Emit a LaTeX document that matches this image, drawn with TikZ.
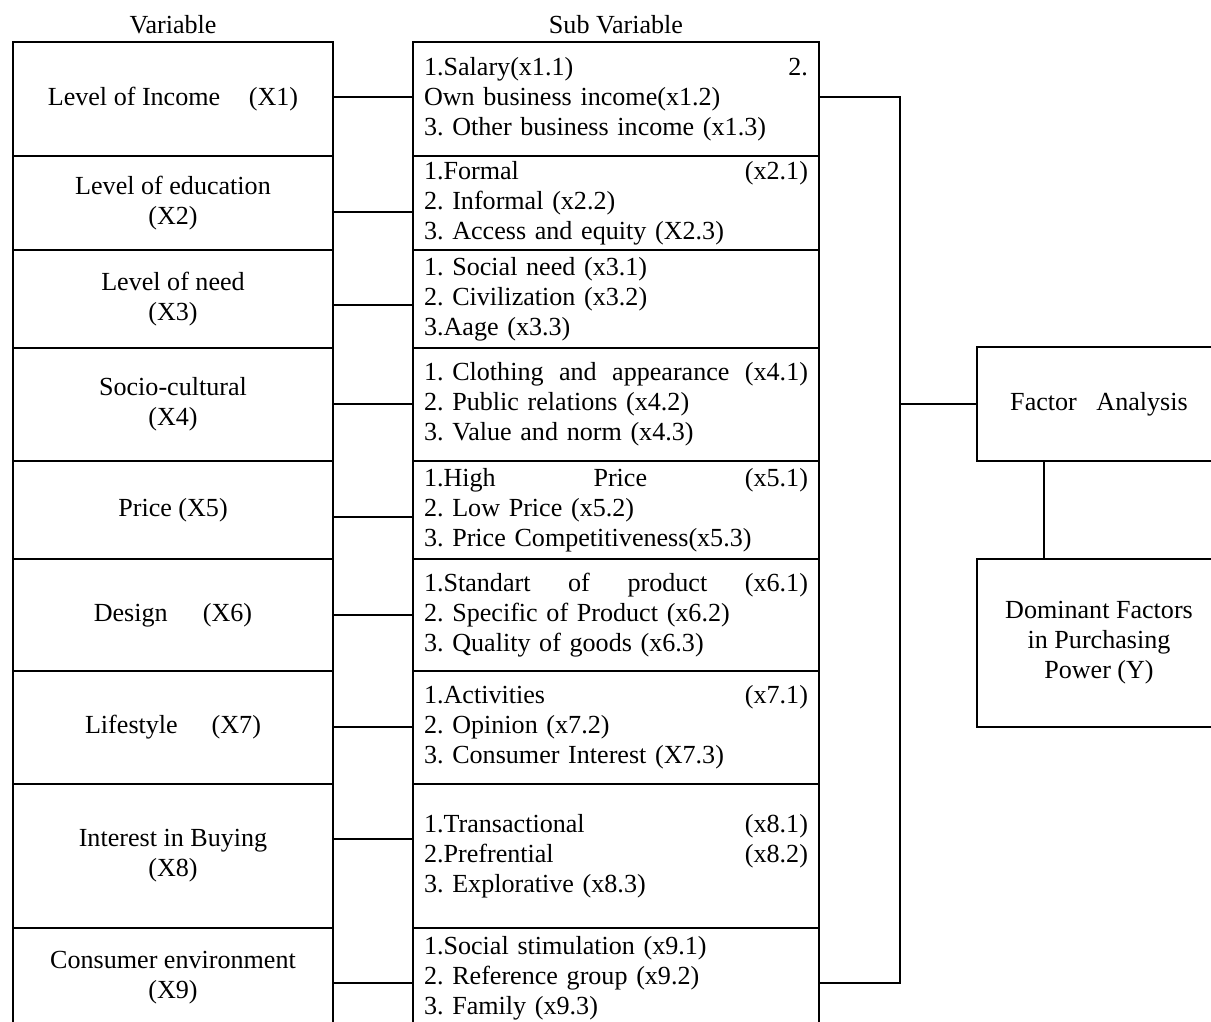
\documentclass[tikz,border=0pt]{standalone}
\usepackage{fontspec}
\setmainfont{Liberation Serif}
\begin{document}
\begin{tikzpicture}[x=0.46pt,y=-0.46pt,line width=0.8pt,
  font=\fontsize{12}{13.8}\selectfont\frenchspacing,
  varbox/.style={draw,outer sep=0pt,inner sep=0pt,anchor=north west,minimum width=147.2pt,align=center},
  subbox/.style={draw,outer sep=0pt,inner xsep=0pt,inner ysep=0pt,anchor=north west,minimum width=186.76pt,text width=176.6pt,align=left},
  resbox/.style={draw,outer sep=0pt,inner sep=0pt,anchor=north west,minimum width=112.24pt,align=center}]
\useasboundingbox (0,0) rectangle (1211,1022);
\clip (0,0) rectangle (1211,1022);
\node[anchor=base] (hvar) at (173,33) {Variable};
\node[anchor=base] (hsub) at (616,33) {Sub Variable};
\node[varbox,minimum height=52.44pt] (v1) at (13,42) {Level of Income\hspace{1.1em}(X1)};
\node[varbox,minimum height=43.24pt] (v2) at (13,156) {Level of education\\(X2)};
\node[varbox,minimum height=45.08pt] (v3) at (13,250) {Level of need\\(X3)};
\node[varbox,minimum height=51.98pt] (v4) at (13,348) {Socio-cultural\\(X4)};
\node[varbox,minimum height=45.08pt] (v5) at (13,461) {Price (X5)};
\node[varbox,minimum height=51.52pt] (v6) at (13,559) {Design\hspace{1.35em}(X6)};
\node[varbox,minimum height=51.98pt] (v7) at (13,671) {Lifestyle\hspace{1.3em}(X7)};
\node[varbox,minimum height=66.24pt] (v8) at (13,784) {Interest in Buying\\(X8)};
\node[varbox,minimum height=46pt] (v9) at (13,928) {Consumer environment\\(X9)};
\node[subbox,minimum height=52.44pt] (s1) at (413,42) {1.Salary(x1.1)\hfill 2.\\Own business income(x1.2)\\3. Other business income (x1.3)};
\node[subbox,minimum height=43.24pt] (s2) at (413,156) {1.Formal\hfill (x2.1)\\2. Informal (x2.2)\\3. Access and equity (X2.3)};
\node[subbox,minimum height=45.08pt] (s3) at (413,250) {1. Social need (x3.1)\\2. Civilization (x3.2)\\3.Aage (x3.3)};
\node[subbox,minimum height=51.98pt] (s4) at (413,348) {1.\ Clothing\hfill and\hfill appearance\hfill (x4.1)\\2. Public relations (x4.2)\\3. Value and norm (x4.3)};
\node[subbox,minimum height=45.08pt] (s5) at (413,461) {1.High\hfill Price\hfill (x5.1)\\2. Low Price (x5.2)\\3. Price Competitiveness(x5.3)};
\node[subbox,minimum height=51.52pt] (s6) at (413,559) {1.Standart\hfill of\hfill product\hfill (x6.1)\\2. Specific of Product (x6.2)\\3. Quality of goods (x6.3)};
\node[subbox,minimum height=51.98pt] (s7) at (413,671) {1.Activities\hfill (x7.1)\\2. Opinion (x7.2)\\3. Consumer Interest (X7.3)};
\node[subbox,minimum height=66.24pt] (s8) at (413,784) {1.Transactional\hfill (x8.1)\\2.Prefrential\hfill (x8.2)\\3. Explorative (x8.3)};
\node[subbox,minimum height=46pt] (s9) at (413,928) {1.Social stimulation (x9.1)\\2. Reference group (x9.2)\\3. Family (x9.3)};
\node[resbox,minimum height=52.44pt] (fa) at (977,347) {Factor\hspace{0.75em}Analysis};
\node[resbox,minimum height=77.28pt] (dom) at (977,559) {Dominant Factors\\in Purchasing\\Power (Y)};
\foreach \i/\cy in {1/97,2/212,3/305,4/404,5/517,6/615,7/727,8/839,9/983}
  \draw (v\i.east |- 0,\cy) -- (s\i.west |- 0,\cy);
\coordinate (jt) at (900,97);
\coordinate (jb) at (900,983);
\draw (s1.east |- jt) -- (jt) -- (jb) -- (s9.east |- jb);
\draw (fa.west) -- (fa.west -| jt);
\draw (1044,0 |- fa.south) -- (1044,0 |- dom.north);
\end{tikzpicture}
\end{document}
